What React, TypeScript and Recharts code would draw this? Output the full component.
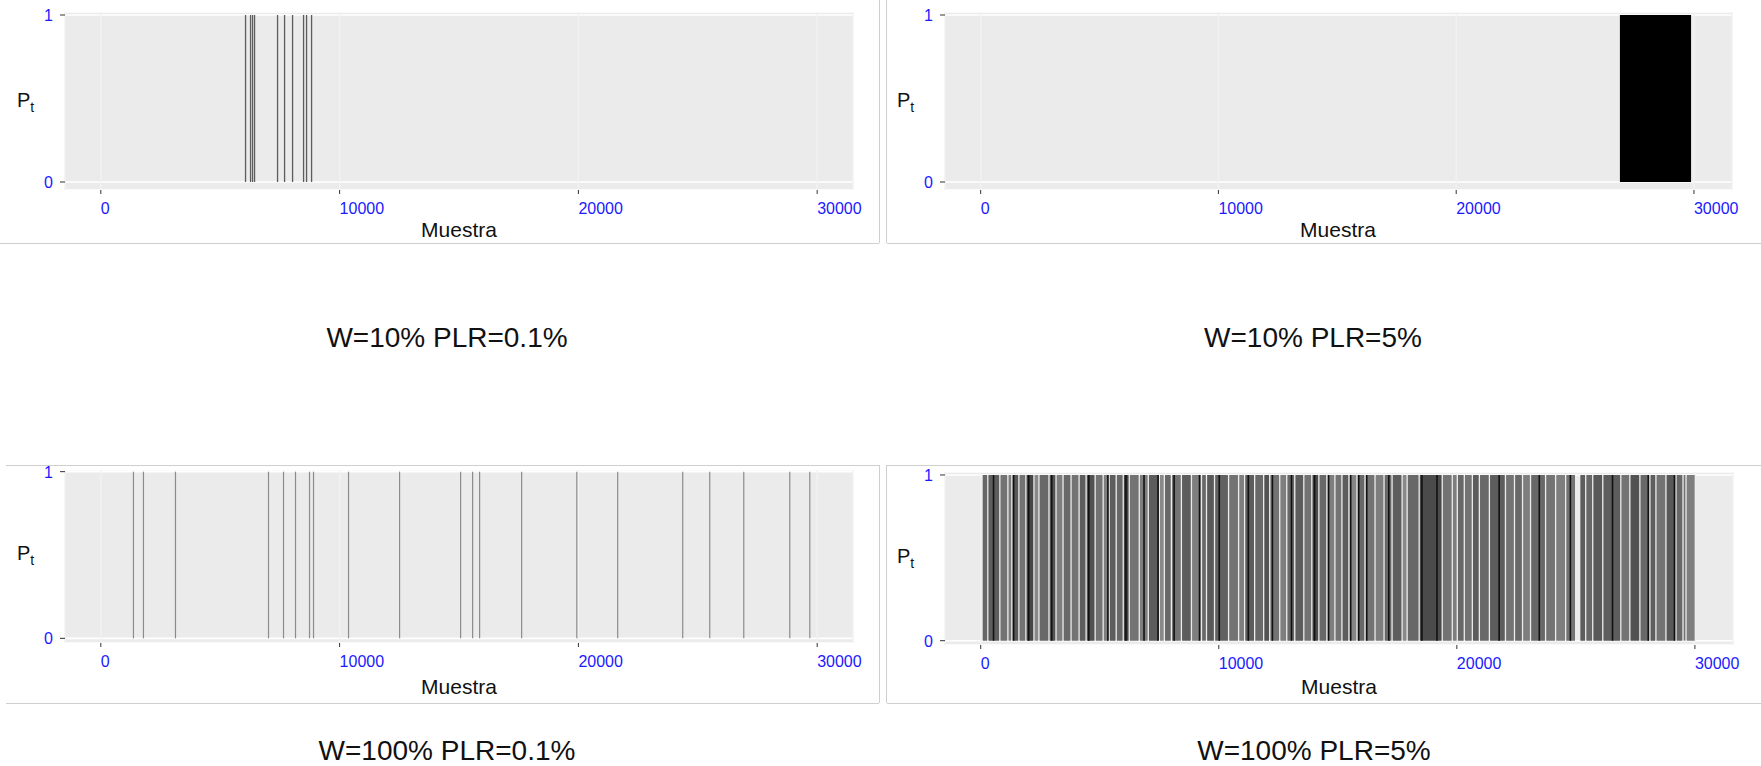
import React from 'react';
import { ComposedChart, XAxis, YAxis, CartesianGrid, Bar, Area, ReferenceArea } from 'recharts';

const FONT = '"Liberation Sans", Arial, Helvetica, sans-serif';
const TICK_COLOR = '#1a1aff';

// ---------- axis ticks & labels ----------
const xTicks = [0, 10000, 20000, 30000];
const yTicks = [0, 1];
const xLabel = 'Muestra';
const panelTitles = ['W=10% PLR=0.1%', 'W=10% PLR=5%', 'W=100% PLR=0.1%', 'W=100% PLR=5%'];

// ---------- W=10% PLR=0.1% : lost samples ----------
const lossesW10P01 = [6076, 6285, 6369, 6453, 7416, 7710, 8045, 8506, 8631, 8841];

// ---------- W=10% PLR=5% : loss window [start, end] ----------
const windowW10P5 = [26886, 29878];

// ---------- W=100% PLR=0.1% : lost samples ----------
const lossesW100P01 = [1383, 1802, 3143, 7039, 7668, 8170, 8757, 8924, 10391, 12528, 15084, 15587, 15880, 17640, 19950, 21662, 24386, 25517, 26942, 28869, 29707];

// ---------- W=100% PLR=5% : loss bursts [start, end, density] ----------
const burstsW100P5: [number, number, number][] = [
  [84, 270, 0.55], [325, 776, 0.6], [831, 1113, 0.5], [1168, 1281, 0.45], [1336, 1576, 0.62],
  [1631, 1871, 0.5], [1926, 2208, 0.7], [2263, 2419, 0.4], [2474, 2841, 0.55], [2896, 3136, 0.65],
  [3191, 3431, 0.45], [3486, 3768, 0.55], [3823, 4105, 0.5], [4160, 4400, 0.6], [4455, 4779, 0.65],
  [4834, 5116, 0.5], [5171, 5369, 0.45], [5424, 5664, 0.6], [5719, 5959, 0.55], [6014, 6212, 0.7],
  [6267, 6633, 0.5], [6688, 7012, 0.45], [7067, 7476, 0.6], [7531, 7687, 0.4], [7742, 7982, 0.55],
  [8037, 8403, 0.5], [8458, 8824, 0.6], [8879, 9246, 0.45], [9301, 9457, 0.55], [9512, 9794, 0.62],
  [9849, 10384, 0.58], [10439, 10805, 0.5], [10860, 11058, 0.45], [11113, 11479, 0.6], [11534, 11858, 0.55],
  [11913, 12111, 0.65], [12166, 12533, 0.5], [12588, 12828, 0.45], [12883, 13165, 0.55], [13220, 13544, 0.6],
  [13599, 13881, 0.5], [13936, 14176, 0.68], [14231, 14513, 0.55], [14568, 14850, 0.45], [14905, 15145, 0.5],
  [15200, 15440, 0.6], [15495, 15778, 0.42], [15833, 16115, 0.55], [16170, 16536, 0.5], [16591, 16915, 0.45],
  [16970, 17252, 0.55], [17307, 17674, 0.6], [17729, 17885, 0.4], [17940, 18390, 0.55], [18445, 19359, 0.68],
  [19414, 19781, 0.5], [19836, 19992, 0.45], [20047, 20286, 0.55], [20341, 20624, 0.5], [20679, 20919, 0.6],
  [20974, 21340, 0.55], [21395, 22014, 0.6], [22069, 22394, 0.5], [22449, 22731, 0.55], [22786, 23068, 0.45],
  [23123, 23700, 0.55], [23755, 24121, 0.5], [24176, 24543, 0.45], [24598, 24964, 0.5], [25188, 25385, 0.6],
  [25440, 25680, 0.55], [25735, 26102, 0.62], [26157, 26860, 0.6], [26915, 27240, 0.5], [27295, 27661, 0.65],
  [27716, 28082, 0.55], [28137, 28335, 0.6], [28390, 28756, 0.5], [28811, 29177, 0.62], [29232, 29472, 0.55],
  [29527, 29599, 0.5], [29654, 29990, 0.45],
];
// densest single losses (darkest lines)
const darkLossesW100P5 = [548, 1391, 2023, 2992, 4551, 5352, 6110, 6869, 7459, 8133, 9200, 10029, 11251, 12263, 13063, 14033, 14623, 15550, 15887, 16224, 17151, 18542, 19174, 21786, 23472, 24778, 26548, 28050, 29150];

const toRows = (xs: number[]) => xs.map((x) => ({ x, p: 1 }));
const shade = (d: number) => {
  const g = Math.round(225 - d * 220);
  return `rgb(${g},${g},${g})`;
};

const XTick = (props: any) => {
  const { x, y, payload } = props;
  return (
    <text x={x} y={y} dy={18} textAnchor="start" fill={TICK_COLOR} fontSize={16} fontFamily={FONT}>
      {payload.value}
    </text>
  );
};
const YTick = (props: any) => {
  const { x, y, payload } = props;
  return (
    <text x={x} y={y} dx={-5} dy={6} textAnchor="end" fill={TICK_COLOR} fontSize={16} fontFamily={FONT}>
      {payload.value}
    </text>
  );
};

type PanelProps = {
  left: number; top: number; width: number; height: number;
  marginTop: number; marginRight: number; yAxisWidth: number; xAxisHeight: number;
  xDomain: [number, number]; yDomain: [number, number];
  data: any[];
  children?: React.ReactNode;
};

function Panel(p: PanelProps) {
  return (
    <div style={{ position: 'absolute', left: p.left, top: p.top, width: p.width, height: p.height }}>
      <ComposedChart
        width={p.width}
        height={p.height}
        data={p.data}
        margin={{ top: p.marginTop, right: p.marginRight, bottom: 0, left: 0 }}
      >
        <CartesianGrid fill="#EBEBEB" stroke="#FFFFFF" strokeWidth={1.6} vertical={false} />
        <CartesianGrid stroke="#F2F2F2" strokeWidth={1.5} horizontal={false} />
        <XAxis
          type="number"
          dataKey="x"
          domain={p.xDomain}
          ticks={xTicks}
          interval={0}
          allowDataOverflow
          axisLine={false}
          tickLine={{ stroke: '#333333' }}
          tickSize={4}
          height={p.xAxisHeight}
          tick={<XTick />}
        />
        <YAxis
          type="number"
          domain={p.yDomain}
          ticks={yTicks}
          interval={0}
          allowDataOverflow
          axisLine={false}
          tickLine={{ stroke: '#333333' }}
          tickSize={5}
          width={p.yAxisWidth}
          tick={<YTick />}
        />
        {p.children}
      </ComposedChart>
    </div>
  );
}

const X_DOMAIN_L: [number, number] = [-1500, 31500];
const X_DOMAIN_R: [number, number] = [-1500, 31600];

export default function App() {
  const border = '#cfcfcf';
  return (
    <div
      style={{
        position: 'absolute', left: 0, top: 0, width: 1761, height: 766,
        background: '#ffffff', overflow: 'hidden', fontFamily: FONT,
      }}
    >
      {/* W=10% PLR=0.1% */}
      <Panel left={0} top={0} width={880} height={243} marginTop={12} marginRight={27}
        yAxisWidth={65} xAxisHeight={53} xDomain={X_DOMAIN_L} yDomain={[-0.048, 1.018]}
        data={toRows(lossesW10P01)}>
        <Bar dataKey="p" fill="#5c5c5c" barSize={1.3} isAnimationActive={false} />
      </Panel>

      {/* W=10% PLR=5% */}
      <Panel left={887} top={0} width={874} height={243} marginTop={12} marginRight={29}
        yAxisWidth={58} xAxisHeight={53} xDomain={X_DOMAIN_R} yDomain={[-0.048, 1.018]}
        data={toRows(windowW10P5)}>
        <Area type="linear" dataKey="p" baseValue={0} fill="#000000" fillOpacity={1} stroke="none"
          isAnimationActive={false} dot={false} activeDot={false} />
      </Panel>

      {/* W=100% PLR=0.1% */}
      <Panel left={0} top={465} width={880} height={238} marginTop={5} marginRight={27}
        yAxisWidth={65} xAxisHeight={60} xDomain={X_DOMAIN_L} yDomain={[-0.028, 1.01]}
        data={toRows(lossesW100P01)}>
        <Bar dataKey="p" fill="#8c8c8c" barSize={1.2} isAnimationActive={false} />
      </Panel>

      {/* W=100% PLR=5% */}
      <Panel left={887} top={465} width={874} height={238} marginTop={7} marginRight={28}
        yAxisWidth={58} xAxisHeight={58} xDomain={X_DOMAIN_R} yDomain={[-0.026, 1.018]}
        data={toRows(darkLossesW100P5)}>
        {burstsW100P5.map(([s, e, d], i) => (
          <ReferenceArea key={i} x1={s} x2={e} y1={0} y2={1} fill={shade(d)} fillOpacity={1}
            stroke="none" ifOverflow="visible" />
        ))}
        <Bar dataKey="p" fill="#111111" barSize={1.6} isAnimationActive={false} />
      </Panel>

      {/* overlay: axis titles, panel titles, frames */}
      <svg width={1761} height={766} style={{ position: 'absolute', left: 0, top: 0, pointerEvents: 'none' }}>
        {/* frames */}
        <line x1={0} y1={243.5} x2={879} y2={243.5} stroke={border} />
        <line x1={887} y1={243.5} x2={1761} y2={243.5} stroke={border} />
        <line x1={879.5} y1={0} x2={879.5} y2={243} stroke={border} />
        <line x1={886.5} y1={0} x2={886.5} y2={243} stroke={border} />
        <line x1={6} y1={465.5} x2={879} y2={465.5} stroke={border} />
        <line x1={887} y1={465.5} x2={1761} y2={465.5} stroke={border} />
        <line x1={6} y1={703.5} x2={879} y2={703.5} stroke={border} />
        <line x1={887} y1={703.5} x2={1761} y2={703.5} stroke={border} />
        <line x1={879.5} y1={465} x2={879.5} y2={703} stroke={border} />
        <line x1={886.5} y1={465} x2={886.5} y2={703} stroke={border} />

        {/* y-axis titles P_t */}
        {[[17, 107], [897, 107], [17, 560], [897, 563]].map(([x, y], i) => (
          <text key={'p' + i} x={x} y={y} fontSize={20} fontFamily={FONT} fill="#111">
            P<tspan fontSize={14} dy={5}>t</tspan>
          </text>
        ))}

        {/* x-axis titles */}
        {[[459, 237], [1338, 237], [459, 694], [1339, 694]].map(([x, y], i) => (
          <text key={'m' + i} x={x} y={y} fontSize={21} fontFamily={FONT} fill="#111" textAnchor="middle">
            {xLabel}
          </text>
        ))}

        {/* panel titles */}
        {[[447, 347], [1313, 347], [447, 760], [1314, 760]].map(([x, y], i) => (
          <text key={'t' + i} x={x} y={y} fontSize={28} fontFamily={FONT} fill="#111" textAnchor="middle">
            {panelTitles[i]}
          </text>
        ))}
      </svg>
    </div>
  );
}
